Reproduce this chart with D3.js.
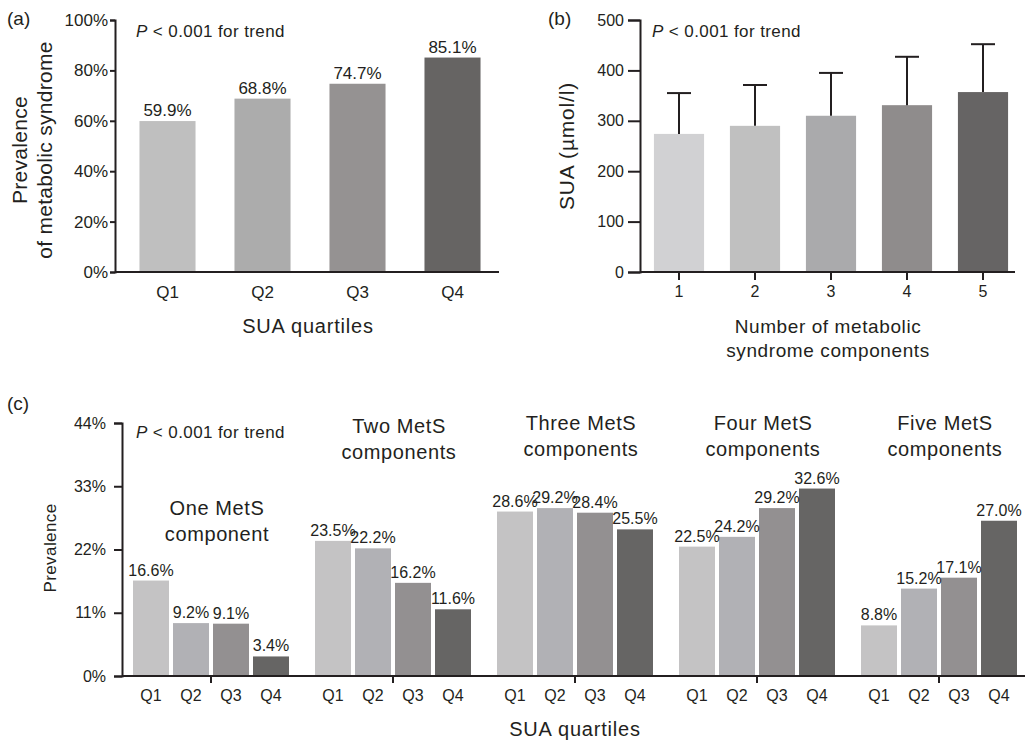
<!DOCTYPE html>
<html>
<head>
<meta charset="utf-8">
<script src="https://cdn.jsdelivr.net/npm/d3@7"></script>
<style>
  body { margin: 0; background: #fff; }
  svg text { font-family: "Liberation Sans", Arial, sans-serif; fill: #231f20; }
</style>
</head>
<body>
<div id="chart"></div>
<script>
// panel (a)
const quartiles = ["Q1", "Q2", "Q3", "Q4"];
const prevMetS = [0.599, 0.688, 0.747, 0.851];
const colorsA = ["#bfbfbf", "#acacac", "#959292", "#666463"];

// panel (b)
const components = ["1", "2", "3", "4", "5"];
const suaMean = [274, 290, 310, 331, 357];
const suaSD = [81, 81, 85, 96, 95];
const colorsB = ["#d1d1d3", "#c0c0c0", "#aaaaac", "#8f8c8c", "#666464"];

// panel (c)
const groups = ["One", "Two", "Three", "Four", "Five"];
const groupTitles = [["One MetS", "component"], ["Two MetS", "components"], ["Three MetS", "components"], ["Four MetS", "components"], ["Five MetS", "components"]];
const prevByGroup = [
  [16.6, 9.2, 9.1, 3.4],
  [23.5, 22.2, 16.2, 11.6],
  [28.6, 29.2, 28.4, 25.5],
  [22.5, 24.2, 29.2, 32.6],
  [8.8, 15.2, 17.1, 27.0]
];
const colorsC = ["#c4c3c4", "#b1b1b5", "#939091", "#666564"];
const yTicksC = [0, 11, 22, 33, 44];

const ink = "#231f20";

const svg = d3.select("#chart").append("svg")
    .attr("width", 1025)
    .attr("height", 743);

function styleAxis(g) {
  g.select(".domain").attr("stroke", ink).attr("stroke-width", 2);
  g.selectAll(".tick line").attr("stroke", ink).attr("stroke-width", 2);
  g.selectAll(".tick text").attr("fill", ink);
}

function pText(g, x, y, size) {
  const t = g.append("text").attr("x", x).attr("y", y)
    .attr("font-size", size).attr("letter-spacing", 0.4);
  t.append("tspan").attr("font-style", "italic").text("P");
  t.append("tspan").text(" < 0.001 for trend");
}

// ---------- (a) ----------
{
  const g = svg.append("g");
  const x = d3.scaleBand().domain(quartiles).range([120, 500]).paddingInner(0.41).paddingOuter(0.205);
  const y = d3.scaleLinear().domain([0, 1]).range([272, 20]);

  g.selectAll("rect").data(prevMetS).join("rect")
    .attr("x", (d, i) => x(quartiles[i]))
    .attr("width", x.bandwidth())
    .attr("y", d => y(d))
    .attr("height", d => y(0) - y(d))
    .attr("fill", (d, i) => colorsA[i]);

  g.selectAll("text.val").data(prevMetS).join("text")
    .attr("class", "val")
    .attr("x", (d, i) => x(quartiles[i]) + x.bandwidth() / 2)
    .attr("y", d => y(d) - 5)
    .attr("text-anchor", "middle")
    .attr("font-size", 17)
    .text(d => (d * 100).toFixed(1) + "%");

  g.append("g").attr("transform", "translate(115,0)")
    .call(d3.axisLeft(y).tickValues([0, .2, .4, .6, .8, 1]).tickFormat(d3.format(".0%")).tickSize(5).tickPadding(2))
    .call(styleAxis)
    .call(a => a.selectAll("text").attr("font-size", 17).attr("font-family", "Liberation Sans, Arial"));

  g.append("line").attr("x1", 115).attr("x2", 499).attr("y1", 272).attr("y2", 272)
    .attr("stroke", ink).attr("stroke-width", 2);

  g.selectAll("text.q").data(quartiles).join("text")
    .attr("class", "q")
    .attr("x", d => x(d) + x.bandwidth() / 2)
    .attr("y", 298)
    .attr("text-anchor", "middle")
    .attr("font-size", 17)
    .text(d => d);

  g.append("text").attr("x", 308).attr("y", 333).attr("text-anchor", "middle")
    .attr("font-size", 20).attr("letter-spacing", 0.8).text("SUA quartiles");

  g.append("text").attr("transform", "translate(27,150) rotate(-90)").attr("text-anchor", "middle")
    .attr("font-size", 21).attr("letter-spacing", 0.3).text("Prevalence");
  g.append("text").attr("transform", "translate(52,150) rotate(-90)").attr("text-anchor", "middle")
    .attr("font-size", 21).attr("letter-spacing", 0.3).text("of metabolic syndrome");

  g.append("text").attr("x", 7).attr("y", 25).attr("font-size", 19).text("(a)");
  pText(g, 136, 37, 17);
}

// ---------- (b) ----------
{
  const g = svg.append("g");
  const x = d3.scaleBand().domain(components).range([641, 1021]).paddingInner(0.34).paddingOuter(0.17);
  const y = d3.scaleLinear().domain([0, 500]).range([272, 20]);

  g.selectAll("rect").data(suaMean).join("rect")
    .attr("x", (d, i) => x(components[i]))
    .attr("width", x.bandwidth())
    .attr("y", d => y(d))
    .attr("height", d => y(0) - y(d))
    .attr("fill", (d, i) => colorsB[i]);

  const err = g.selectAll("g.err").data(suaMean).join("g").attr("class", "err");
  err.append("line")
    .attr("x1", (d, i) => x(components[i]) + x.bandwidth() / 2)
    .attr("x2", (d, i) => x(components[i]) + x.bandwidth() / 2)
    .attr("y1", d => y(d))
    .attr("y2", (d, i) => y(d + suaSD[i]))
    .attr("stroke", ink).attr("stroke-width", 2);
  err.append("line")
    .attr("x1", (d, i) => x(components[i]) + x.bandwidth() / 2 - 12)
    .attr("x2", (d, i) => x(components[i]) + x.bandwidth() / 2 + 12)
    .attr("y1", (d, i) => y(d + suaSD[i]))
    .attr("y2", (d, i) => y(d + suaSD[i]))
    .attr("stroke", ink).attr("stroke-width", 2);

  g.append("g").attr("transform", "translate(640,0)")
    .call(d3.axisLeft(y).tickValues([0, 100, 200, 300, 400, 500]).tickSize(12).tickPadding(4))
    .call(styleAxis)
    .call(a => a.selectAll("text").attr("font-size", 16).attr("font-family", "Liberation Sans, Arial"));

  g.append("g").attr("transform", "translate(0,272)")
    .call(d3.axisBottom(x).tickSize(8).tickPadding(6).tickSizeOuter(0))
    .call(styleAxis)
    .call(a => a.select(".domain").remove())
    .call(a => a.selectAll("text").attr("font-size", 16).attr("font-family", "Liberation Sans, Arial"));

  g.append("line").attr("x1", 640).attr("x2", 1015).attr("y1", 272).attr("y2", 272)
    .attr("stroke", ink).attr("stroke-width", 2);

  g.append("text").attr("x", 828).attr("y", 333).attr("text-anchor", "middle")
    .attr("font-size", 19).attr("letter-spacing", 0.6).text("Number of metabolic");
  g.append("text").attr("x", 828).attr("y", 357).attr("text-anchor", "middle")
    .attr("font-size", 19).attr("letter-spacing", 0.6).text("syndrome components");

  g.append("text").attr("transform", "translate(574,146) rotate(-90)").attr("text-anchor", "middle")
    .attr("font-size", 21).attr("letter-spacing", 0.8).text("SUA (µmol/l)");

  g.append("text").attr("x", 548).attr("y", 25).attr("font-size", 19).text("(b)");
  pText(g, 652, 37, 17);
}

// ---------- (c) ----------
{
  const g = svg.append("g");
  const xg = d3.scaleBand().domain(groups).range([120, 1030]);
  const xq = d3.scaleBand().domain(quartiles).range([-78, 78]).paddingInner(0.1);
  const y = d3.scaleLinear().domain([0, 44]).range([676, 423]);

  const grp = g.selectAll("g.grp").data(prevByGroup).join("g")
    .attr("class", "grp")
    .attr("transform", (d, i) => `translate(${xg(groups[i]) + xg.bandwidth() / 2},0)`);

  grp.selectAll("rect").data(d => d).join("rect")
    .attr("x", (d, i) => xq(quartiles[i]))
    .attr("width", xq.bandwidth())
    .attr("y", d => y(d))
    .attr("height", d => y(0) - y(d))
    .attr("fill", (d, i) => colorsC[i]);

  grp.selectAll("text.val").data(d => d).join("text")
    .attr("class", "val")
    .attr("x", (d, i) => xq(quartiles[i]) + xq.bandwidth() / 2)
    .attr("y", d => y(d) - 5)
    .attr("text-anchor", "middle")
    .attr("font-size", 16)
    .text(d => d.toFixed(1) + "%");

  grp.selectAll("text.q").data(quartiles).join("text")
    .attr("class", "q")
    .attr("x", d => xq(d) + xq.bandwidth() / 2)
    .attr("y", 701)
    .attr("text-anchor", "middle")
    .attr("font-size", 16)
    .text(d => d);

  // group titles sit higher where the bars are tall
  const titleY = [515, 433, 430, 430, 430];
  grp.each(function (d, i) {
    const sel = d3.select(this);
    groupTitles[i].forEach((line, k) => {
      sel.append("text").attr("x", 6).attr("y", titleY[i] + k * 26)
        .attr("text-anchor", "middle").attr("font-size", 20).attr("letter-spacing", 0.6)
        .text(line);
    });
  });

  g.append("g").attr("transform", "translate(122,0)")
    .call(d3.axisLeft(y).tickValues(yTicksC).tickFormat(d => d + "%").tickSize(8).tickPadding(8))
    .call(styleAxis)
    .call(a => a.selectAll("text").attr("font-size", 16).attr("font-family", "Liberation Sans, Arial"));

  g.append("g").attr("transform", "translate(0,676)")
    .call(d3.axisBottom(xg).tickSize(7).tickFormat("").tickSizeOuter(0))
    .call(styleAxis)
    .call(a => a.select(".domain").remove());

  g.append("line").attr("x1", 122).attr("x2", 1025).attr("y1", 676).attr("y2", 676)
    .attr("stroke", ink).attr("stroke-width", 2);

  g.append("text").attr("x", 575).attr("y", 736).attr("text-anchor", "middle")
    .attr("font-size", 20).attr("letter-spacing", 0.8).text("SUA quartiles");

  g.append("text").attr("transform", "translate(56,548) rotate(-90)").attr("text-anchor", "middle")
    .attr("font-size", 17).attr("letter-spacing", 0.4).text("Prevalence");

  g.append("text").attr("x", 7).attr("y", 410).attr("font-size", 19).text("(c)");
  pText(g, 136, 438, 17);
}
</script>
</body>
</html>
